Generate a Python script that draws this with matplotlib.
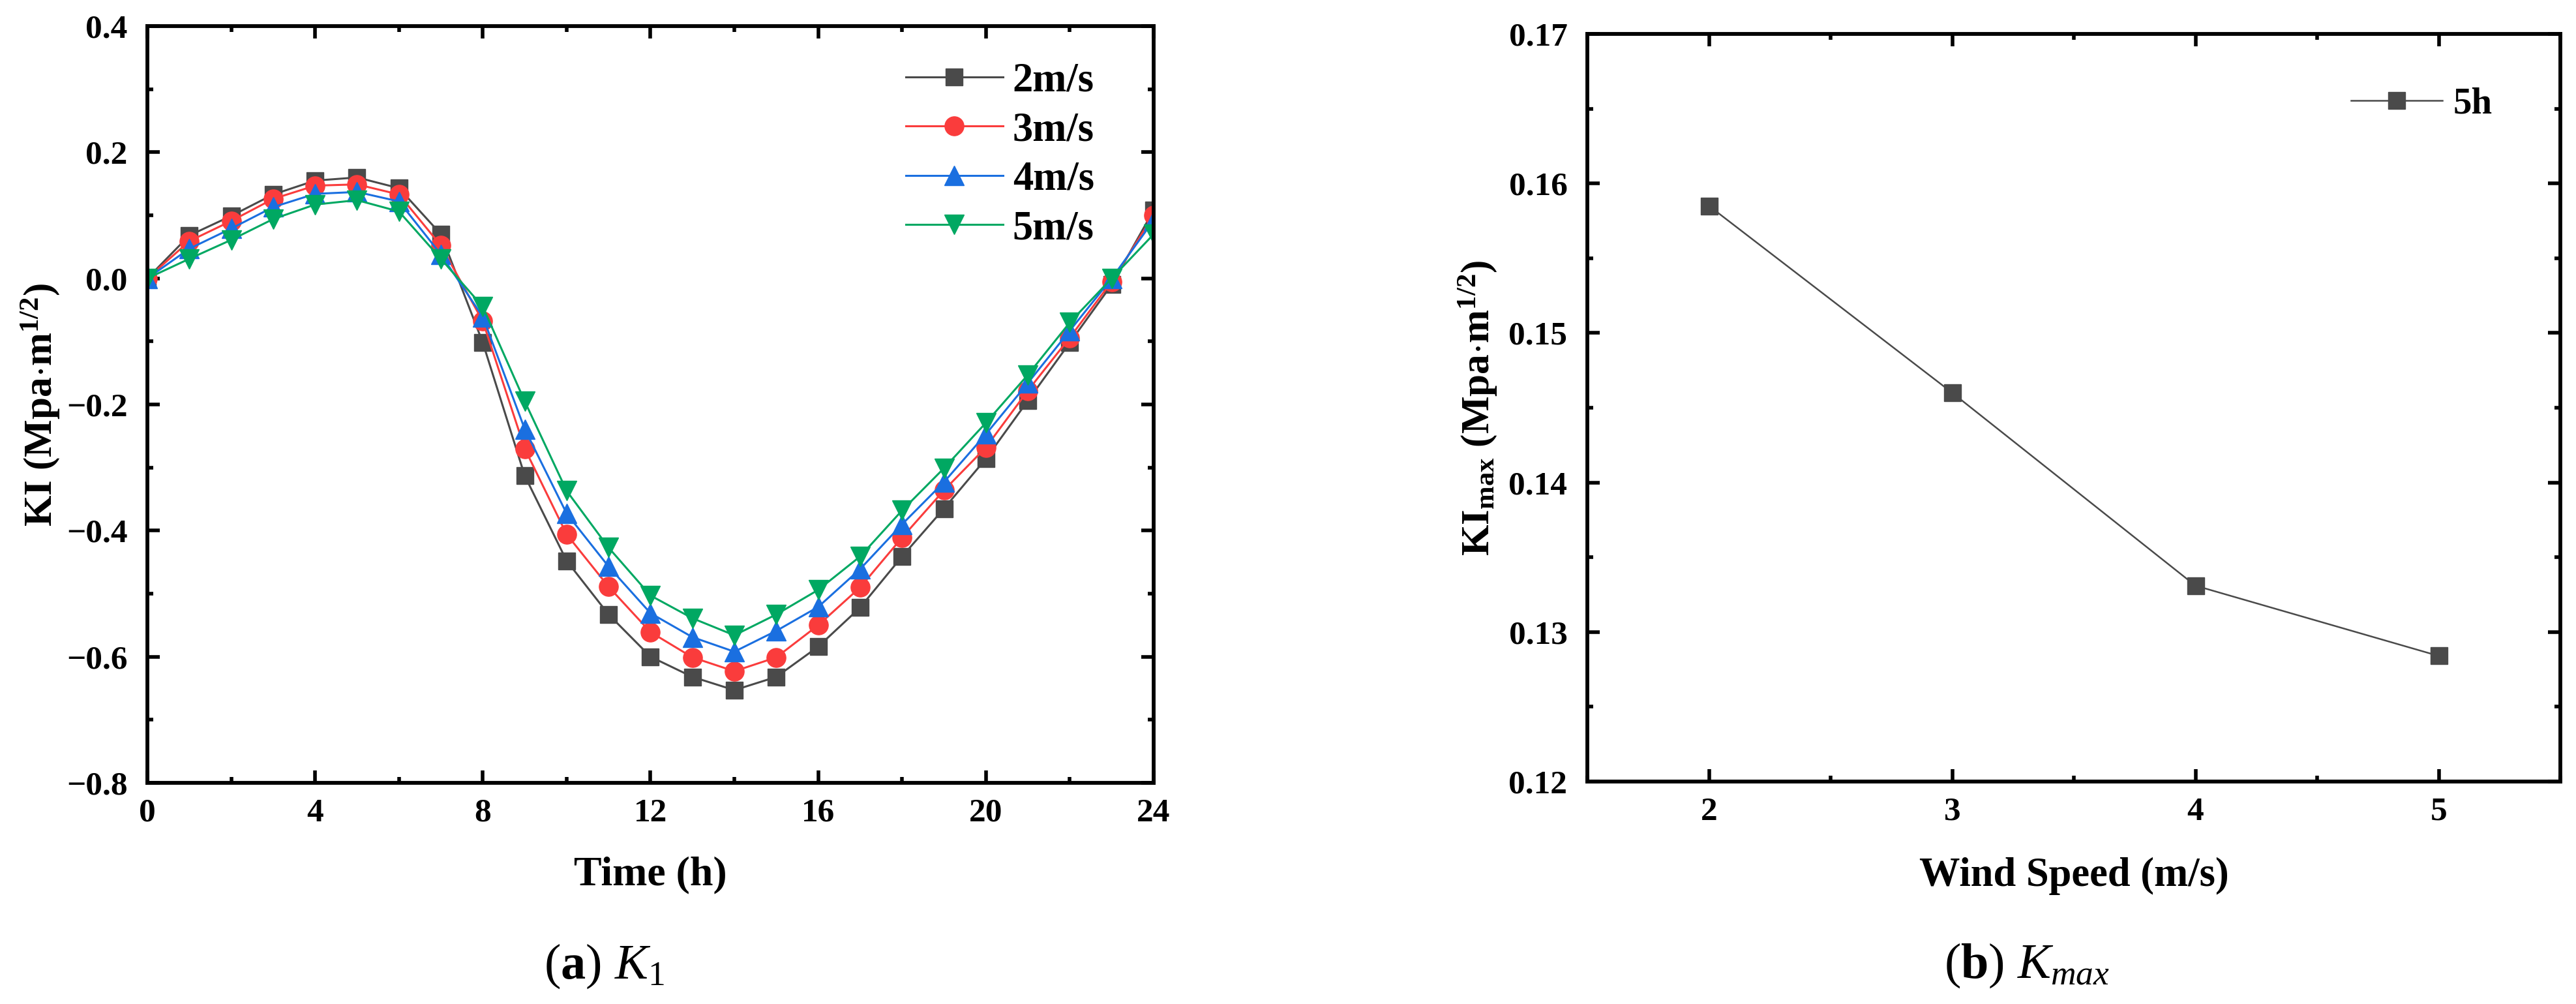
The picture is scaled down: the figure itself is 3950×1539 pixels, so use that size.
import numpy as np
import matplotlib
matplotlib.use("Agg")
import matplotlib.pyplot as plt
from matplotlib.ticker import MultipleLocator

plt.rcParams['font.family'] = ['Liberation Serif', 'DejaVu Serif']
plt.rcParams['font.weight'] = 'bold'
plt.rcParams['mathtext.fontset'] = 'custom'
plt.rcParams['mathtext.rm'] = 'Liberation Serif:weight=normal'
plt.rcParams['mathtext.it'] = 'Liberation Serif:italic:weight=normal'
plt.rcParams['mathtext.bf'] = 'Liberation Serif:bold'

# data
hours = list(range(25))
ki_2ms = [0.0, 0.068, 0.099, 0.133, 0.155, 0.160, 0.143, 0.070, -0.102, -0.313, -0.448,
          -0.533, -0.600, -0.632, -0.653, -0.632, -0.584, -0.522, -0.441, -0.365, -0.286,
          -0.194, -0.102, -0.010, 0.108]
ki_3ms = [0.0, 0.059, 0.091, 0.126, 0.147, 0.149, 0.133, 0.052, -0.068, -0.270, -0.406,
          -0.489, -0.561, -0.601, -0.623, -0.601, -0.550, -0.490, -0.411, -0.336, -0.268,
          -0.178, -0.094, -0.005, 0.100]
ki_4ms = [0.0, 0.047, 0.079, 0.113, 0.134, 0.137, 0.122, 0.038, -0.061, -0.239, -0.373,
          -0.457, -0.531, -0.569, -0.592, -0.559, -0.521, -0.461, -0.390, -0.323, -0.247,
          -0.166, -0.083, 0.000, 0.092]
ki_5ms = [0.0, 0.031, 0.061, 0.094, 0.117, 0.124, 0.106, 0.031, -0.045, -0.195, -0.337,
          -0.427, -0.503, -0.539, -0.566, -0.533, -0.494, -0.441, -0.368, -0.301, -0.229,
          -0.153, -0.070, 0.000, 0.070]
series_labels = ['2m/s', '3m/s', '4m/s', '5m/s']

wind_speed = [2, 3, 4, 5]
ki_max_5h = [0.1585, 0.1460, 0.1331, 0.1284]

colors = ['#4a4a4a', '#fa3c3c', '#1a6fe0', '#00a862']
markers = ['s', 'o', '^', 'v']
msizes = [19, 21, 21, 21]

fig = plt.figure(figsize=(39.5, 15.39), dpi=100)
W, H = 3950.0, 1539.0
ax1 = fig.add_axes([226 / W, 1 - 1200 / H, (1769 - 226) / W, (1200 - 40) / H])
ax2 = fig.add_axes([2434 / W, 1 - 1198 / H, (3926 - 2434) / W, (1198 - 52) / H])

for ys, lab, c, m, ms in zip([ki_2ms, ki_3ms, ki_4ms, ki_5ms], series_labels, colors, markers, msizes):
    ax1.plot(hours, ys, color=c, marker=m, markersize=ms, linewidth=2.2, label=lab)

ax2.plot(wind_speed, ki_max_5h, color=colors[0], marker='s', markersize=19, linewidth=1.8, label='5h')

ax1.set_xlim(0, 24)
ax1.set_ylim(-0.8, 0.4)
ax1.xaxis.set_major_locator(MultipleLocator(4))
ax1.xaxis.set_minor_locator(MultipleLocator(2))
ax1.yaxis.set_minor_locator(MultipleLocator(0.1))
ax1.set_yticks([0.4, 0.2, 0.0, -0.2, -0.4, -0.6, -0.8])
ax1.set_yticklabels(['0.4', '0.2', '0.0', '\u22120.2', '\u22120.4', '\u22120.6', '\u22120.8'])

ax2.set_xlim(1.5, 5.5)
ax2.set_ylim(0.12, 0.17)
ax2.xaxis.set_major_locator(MultipleLocator(1))
ax2.xaxis.set_minor_locator(MultipleLocator(0.5))
ax2.yaxis.set_major_locator(MultipleLocator(0.01))
ax2.yaxis.set_minor_locator(MultipleLocator(0.005))
ax2.yaxis.set_major_formatter(matplotlib.ticker.FormatStrFormatter('%.2f'))

for ax in (ax1, ax2):
    for sp in ax.spines.values():
        sp.set_linewidth(4.2)
    ax.tick_params(which='both', direction='in', top=True, right=True, width=4)
    ax.tick_params(which='major', length=14)
    ax.tick_params(which='minor', length=6.5)
    ax.tick_params(axis='x', which='major', pad=17, labelsize=37)
    ax.tick_params(axis='y', which='major', pad=22, labelsize=37)
    for t in ax.get_xticklabels() + ax.get_yticklabels():
        t.set_fontweight('bold')

ax1.set_xlabel('Time (h)', fontsize=46, fontweight='bold', va='center')
ax1.xaxis.set_label_coords(0.5, -0.122)
ax1.set_ylabel(r'KI (Mpa$\cdot$m$^{\mathbf{1/2}}$)', fontsize=44, fontweight='bold', va='center')
ax1.yaxis.set_label_coords(-0.106, 0.5)

ax2.set_xlabel('Wind Speed (m/s)', fontsize=45, fontweight='bold', va='center')
ax2.xaxis.set_label_coords(0.5, -0.1265)
ax2.set_ylabel(r'KI$_{\mathbf{max}}$ (Mpa$\cdot$m$^{\mathbf{1/2}}$)', fontsize=44, fontweight='bold', va='center')
ax2.yaxis.set_label_coords(-0.1126, 0.5)

ax1.legend(loc='upper left', bbox_to_anchor=(0.7537, 0.952), frameon=False,
           prop={'size': 45, 'weight': 'bold'}, borderpad=0, borderaxespad=0,
           handlelength=2.38, handletextpad=0.24, labelspacing=0.28)
ax2.legend(loc='center left', bbox_to_anchor=(0.785, 0.906), frameon=False,
           prop={'size': 41, 'weight': 'bold'}, borderpad=0, borderaxespad=0,
           handlelength=2.45, handletextpad=0.3)

fig.text(927 / W, 1 - 1481 / H, r'($\mathbf{a}$) $K$$_{\mathrm{1}}$', fontsize=55,
         ha='center', va='center', fontweight='normal')
fig.text(3108 / W, 1 - 1480 / H, r'($\mathbf{b}$) $K_{max}$', fontsize=55,
         ha='center', va='center', fontweight='normal')

fig.savefig('out.png', dpi=100)
